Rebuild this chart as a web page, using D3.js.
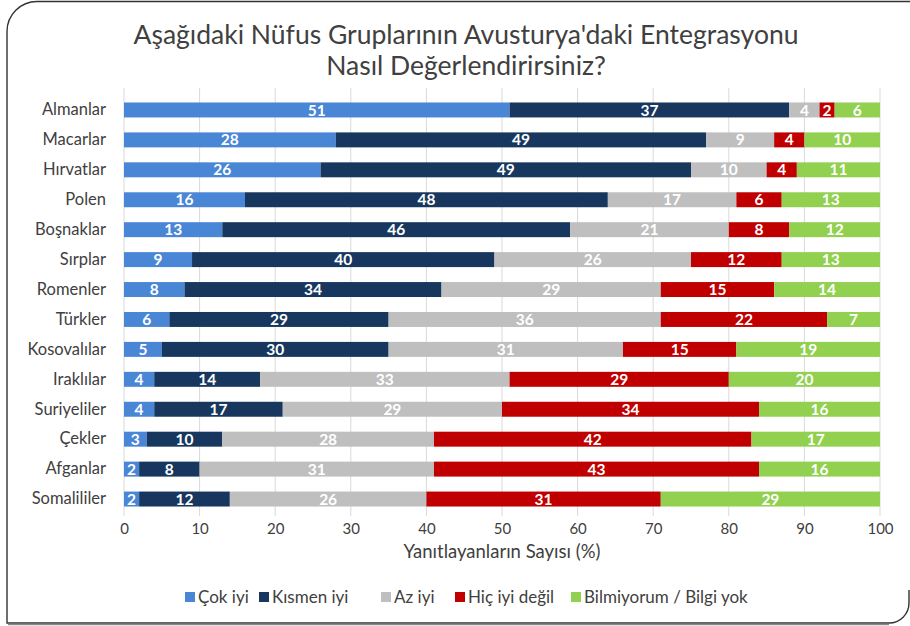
<!DOCTYPE html>
<html><head><meta charset="utf-8">
<script src="https://cdn.jsdelivr.net/npm/d3@7"></script>
<style>body{margin:0;background:#fff;}svg{display:block;font-family:Lato,"Open Sans",sans-serif;}</style>
</head><body>
<svg id="chart" width="910" height="626"></svg>
<script>
const categories = ["Almanlar","Macarlar","Hırvatlar","Polen","Boşnaklar","Sırplar","Romenler","Türkler","Kosovalılar","Iraklılar","Suriyeliler","Çekler","Afganlar","Somalililer"];
const seriesNames = ["Çok iyi","Kısmen iyi","Az iyi","Hiç iyi değil","Bilmiyorum / Bilgi yok"];
const cokIyi     = [51,28,26,16,13, 9, 8, 6, 5, 4, 4, 3, 2, 2];
const kismenIyi  = [37,49,49,48,46,40,34,29,30,14,17,10, 8,12];
const azIyi      = [ 4, 9,10,17,21,26,29,36,31,33,29,28,31,26];
const hicIyiDegil= [ 2, 4, 4, 6, 8,12,15,22,15,29,34,42,43,31];
const bilmiyorum = [ 6,10,11,13,12,13,14, 7,19,20,16,17,16,29];
const xTicks = [0,10,20,30,40,50,60,70,80,90,100];
const colors = ["#4a86d6","#17375e","#bfbfbf","#c00000","#92d050"];

const seriesValues = [cokIyi,kismenIyi,azIyi,hicIyiDegil,bilmiyorum];
const rows = categories.map((c,i)=>{const o={cat:c};seriesNames.forEach((s,j)=>o[s]=seriesValues[j][i]);return o;});
const stacked = d3.stack().keys(seriesNames)(rows);

const svg = d3.select("#chart");
// frame
svg.append("path")
  .attr("d","M911,1.5 H37 A30,30 0 0 0 7,31.5 V623 H889 A20,20 0 0 0 909,603 V590")
  .attr("fill","none").attr("stroke","#333").attr("stroke-width",1.4);
svg.append("line").attr("x1",8).attr("x2",889).attr("y1",624.5).attr("y2",624.5)
  .attr("stroke","#888").attr("stroke-width",1.5);

// title
const title = svg.append("text").attr("text-anchor","middle").attr("fill","#404040")
  .attr("font-size",26.5);
title.append("tspan").attr("x",466).attr("y",44).text("Aşağıdaki Nüfus Gruplarının Avusturya'daki Entegrasyonu");
title.append("tspan").attr("x",466).attr("y",75).text("Nasıl Değerlendirirsiniz?");

const x = d3.scaleLinear().domain([0,100]).range([124,880]);
const y = d3.scaleBand().domain(categories).range([95,514]).paddingInner(0.5).paddingOuter(0.25);

// grid
svg.append("g").selectAll("line").data(xTicks).join("line")
  .attr("x1",d=>x(d)).attr("x2",d=>x(d)).attr("y1",88).attr("y2",516)
  .attr("stroke","#d9d9d9").attr("stroke-width",1);

// x axis labels
const xAxis = d3.axisBottom(x).tickValues(xTicks).tickSize(0).tickPadding(0);
const gx = svg.append("g").attr("transform","translate(0,523)").call(xAxis);
gx.select(".domain").remove();
gx.selectAll("text").attr("font-size",15).attr("fill","#404040").attr("font-family","Lato,sans-serif").attr("dy","0.71em");

// y axis labels
const yAxis = d3.axisLeft(y).tickSize(0).tickPadding(0);
const gy = svg.append("g").attr("transform","translate(106,0)").call(yAxis);
gy.select(".domain").remove();
gy.selectAll("text").attr("font-size",16.5).attr("fill","#404040").attr("font-family","Lato,sans-serif");

// bars
const layers = svg.append("g").selectAll("g").data(stacked).join("g").attr("fill",(d,i)=>colors[i]);
layers.selectAll("rect").data(d=>d).join("rect")
  .attr("x",d=>x(d[0])).attr("width",d=>x(d[1])-x(d[0]))
  .attr("y",d=>y(d.data.cat)).attr("height",y.bandwidth());

// labels
const lab = svg.append("g").selectAll("g").data(stacked).join("g");
lab.selectAll("text").data(d=>d).join("text")
  .attr("x",d=>(x(d[0])+x(d[1]))/2).attr("y",d=>y(d.data.cat)+y.bandwidth()/2)
  .attr("dy","0.36em").attr("text-anchor","middle").attr("fill","#fff")
  .attr("font-size",15.5).attr("font-weight","bold")
  .text(d=>d[1]-d[0]);

// axis title
svg.append("text").attr("x",502).attr("y",558).attr("text-anchor","middle")
  .attr("font-size",18.5).attr("fill","#404040").text("Yanıtlayanların Sayısı (%)");

// legend
const legendX = [185,259,381,455,571];
const lg = svg.append("g").selectAll("g").data(seriesNames).join("g")
  .attr("transform",(d,i)=>`translate(${legendX[i]},597)`);
lg.append("rect").attr("x",0).attr("y",-5).attr("width",10).attr("height",10).attr("fill",(d,i)=>colors[i]);
lg.append("text").attr("x",13).attr("dy","0.35em").attr("font-size",17).attr("fill","#404040").text(d=>d);
</script>
</body></html>
